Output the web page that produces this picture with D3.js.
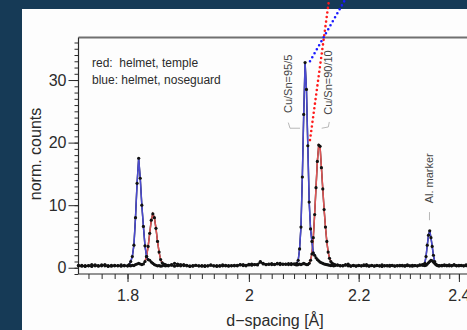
<!DOCTYPE html>
<html>
<head>
<meta charset="utf-8">
<script src="https://cdn.jsdelivr.net/npm/d3@7"></script>
<style>
  body { margin: 0; background: #163a56; overflow: hidden; }
  svg { display: block; font-family: "Liberation Sans", Arial, sans-serif; }
</style>
</head>
<body>
<div id="chart"></div>
<script>
// d-spacing bins (coarse on the baseline, finer through the peaks)
const dSpacing = [
  1.725, 1.73, 1.735, 1.74, 1.745, 1.75, 1.755, 1.76, 1.765, 1.77, 1.775, 1.78, 1.785, 1.79, 1.795,
  1.8, 1.8025, 1.805, 1.8075, 1.81, 1.8125, 1.815, 1.8175, 1.82, 1.8225, 1.825, 1.8275, 1.83,
  1.8325, 1.835, 1.8375, 1.84, 1.8425, 1.845, 1.8475, 1.85, 1.8525, 1.855, 1.8575, 1.86, 1.8625,
  1.865, 1.87, 1.875, 1.88, 1.885, 1.89, 1.895, 1.9, 1.905, 1.91, 1.915, 1.92, 1.925, 1.93, 1.935,
  1.94, 1.945, 1.95, 1.955, 1.96, 1.965, 1.97, 1.975, 1.98, 1.985, 1.99, 1.995, 2.0, 2.005, 2.01,
  2.015, 2.02, 2.025, 2.03, 2.035, 2.04, 2.045, 2.05, 2.055, 2.06, 2.065, 2.07, 2.075, 2.08,
  2.0825, 2.085, 2.0875, 2.09, 2.0925, 2.095, 2.0975, 2.1, 2.1025, 2.105, 2.1075, 2.11, 2.1125,
  2.115, 2.1175, 2.12, 2.1225, 2.125, 2.1275, 2.13, 2.1325, 2.135, 2.1375, 2.14, 2.1425, 2.145,
  2.1475, 2.15, 2.1525, 2.155,
  2.16, 2.165, 2.17, 2.175, 2.18, 2.185, 2.19, 2.195, 2.2, 2.205, 2.21, 2.215, 2.22, 2.225, 2.23,
  2.235, 2.24, 2.245, 2.25, 2.255, 2.26, 2.265, 2.27, 2.275, 2.28, 2.285, 2.29, 2.295, 2.3, 2.305,
  2.31, 2.315, 2.32, 2.325,
  2.3275, 2.33, 2.3325, 2.335, 2.3375, 2.34, 2.3425, 2.345, 2.3475, 2.35, 2.3525, 2.355, 2.3575,
  2.36, 2.365, 2.37, 2.375, 2.38, 2.385, 2.39, 2.395, 2.4, 2.405, 2.41, 2.415, 2.42
]

// red: helmet, temple
const countsTemple = [
  0.4, 0.25, 0.35, 0.3, 0.2, 0.45, 0.35, 0.3, 0.5, 0.35, 0.25, 0.4, 0.3, 0.45, 0.3,
  0.3, 0.35, 0.3, 0.4, 0.35, 0.5, 0.6, 0.7, 0.6, 0.5, 0.6, 1.0, 1.8,
  3.4, 5.5, 7.6, 8.6, 8.0, 6.3, 4.2, 2.5, 1.3, 0.8, 0.6, 0.5, 0.4,
  0.4, 0.5, 0.7, 0.6, 0.5, 0.35, 0.4, 0.3, 0.25, 0.4, 0.3, 0.35, 0.2, 0.3, 0.4,
  0.3, 0.35, 0.25, 0.45, 0.3, 0.35, 0.3, 0.4, 0.3, 0.45, 0.5, 0.4, 0.55, 0.6, 0.5,
  0.45, 1.0, 0.7, 0.5, 0.55, 0.65, 0.5, 0.6, 0.7, 0.55, 0.6, 0.5, 0.65, 0.6,
  0.5, 0.45, 0.5, 0.6, 0.5, 0.6, 0.7, 0.6, 0.5, 0.5, 0.7, 1.2, 2.2,
  4.8, 8.5, 12.8, 17.0, 19.6, 19.4, 16.0, 12.6, 9.3, 6.5, 4.2, 2.5, 1.5,
  1.0, 0.7, 0.6, 0.5,
  0.45, 0.35, 0.3, 0.4, 0.6, 0.3, 0.35, 0.25, 0.4, 0.3, 0.35, 0.5, 0.3, 0.4, 0.25,
  0.35, 0.3, 0.45, 0.3, 0.35, 0.25, 0.4, 0.3, 0.35, 0.3, 0.4, 0.25, 0.35, 0.3, 0.4,
  0.35, 0.3, 0.45, 0.4,
  0.4, 0.35, 0.4, 0.6, 0.8, 1.0, 1.2, 1.1, 0.9, 0.7, 0.5, 0.4, 0.3,
  0.35, 0.3, 0.45, 0.4, 0.3, 0.35, 0.5, 0.3, 0.4, 0.35, 0.3, 0.45, 0.35
]

// blue: helmet, noseguard
const countsNoseguard = [
  0.3, 0.4, 0.2, 0.35, 0.5, 0.3, 0.25, 0.45, 0.3, 0.2, 0.4, 0.3, 0.35, 0.25, 0.4,
  0.3, 0.5, 1.0, 1.8, 3.6, 8.0, 13.5, 17.5, 14.3, 10.0, 6.6, 3.5, 1.8,
  1.3, 1.2, 0.9, 0.7, 0.5, 0.4, 0.3, 0.35, 0.25, 0.3, 0.4, 0.3, 0.35,
  0.3, 0.4, 0.25, 0.35, 0.3, 0.5, 0.3, 0.2, 0.35, 0.4, 0.3, 0.25, 0.35, 0.3, 0.45,
  0.3, 0.2, 0.35, 0.3, 0.4, 0.25, 0.35, 0.3, 0.4, 0.5, 0.35, 0.3, 0.45, 0.4, 0.5,
  0.55, 0.9, 0.6, 0.5, 0.6, 0.5, 0.55, 0.7, 0.5, 0.6, 0.55, 0.65, 0.5, 0.6,
  0.6, 0.7, 1.2, 3.0, 6.5, 14.5, 24.5, 32.8, 28.5, 19.5, 10.5, 6.2, 4.2,
  2.4, 2.0, 1.6, 1.3, 1.1, 0.9, 0.8, 0.7, 0.6, 0.55, 0.5, 0.45, 0.4,
  0.35, 0.4, 0.3, 0.35,
  0.4, 0.3, 0.35, 0.5, 0.3, 0.25, 0.4, 0.3, 0.35, 0.3, 0.45, 0.3, 0.25, 0.35, 0.3,
  0.4, 0.3, 0.2, 0.35, 0.3, 0.4, 0.35, 0.25, 0.3, 0.4, 0.3, 0.35, 0.45, 0.3, 0.25,
  0.35, 0.3, 0.4, 0.5,
  0.5, 0.7, 1.8, 3.6, 5.2, 5.9, 4.8, 3.4, 2.0, 1.0, 0.6, 0.4, 0.35,
  0.3, 0.4, 0.35, 0.3, 0.45, 0.3, 0.4, 0.35, 0.3, 0.4, 0.3, 0.35, 0.4
]

// d ranges where each pattern is traced in colour
const templePeaks = [[1.8275, 1.8575], [2.1075, 2.15]]
const noseguardPeaks = [[1.8025, 1.8325], [2.085, 2.1175], [2.33, 2.3525]]

const xTicks = [1.8, 2, 2.2, 2.4]
const xTickLabels = ["1.8", "2", "2.2", "2.4"]
const yTicks = [0, 10, 20, 30]
const yTickLabels = ["0", "10", "20", "30"]

const legendLines = ["red:  helmet, temple", "blue: helmet, noseguard"]

const peakLabels = ["Cu/Sn=95/5", "Cu/Sn=90/10", "Al. marker"]
const peakLabelD = [2.0696, 2.1428, 2.3395]
const peakLabelV = [29.4, 29.6, 14.3]

const width = 467
const height = 330

const svg = d3
  .select("#chart")
  .append("svg")
  .attr("width", width)
  .attr("height", height)

// white slide panel
svg.append("rect")
  .attr("x", 22)
  .attr("y", 9)
  .attr("width", width)
  .attr("height", height)
  .attr("fill", "#fdfdfd")

// log d axis (constant delta-d/d binning)
const x = d3.scaleLog().domain([1.725, 2.43]).range([78.5, 473.2])
const y = d3.scaleLinear().domain([-1, 36.8]).range([274, 37.5])

const inkColor = "#2b2b2b"

// top frame
svg.append("line")
  .attr("x1", x.range()[0]).attr("x2", width + 10)
  .attr("y1", y.range()[1]).attr("y2", y.range()[1])
  .attr("stroke", "#707070")
  .attr("stroke-width", 2)

// x axis: minor then major
const xMinor = d3.range(1.74, 2.44, 0.02)
svg.append("g")
  .attr("transform", "translate(0," + y.range()[0] + ")")
  .call(d3.axisBottom(x).tickValues(xMinor).tickSize(5).tickFormat(""))
  .call(g => g.select(".domain").remove())

const xAxis = svg.append("g")
  .attr("transform", "translate(0," + y.range()[0] + ")")
  .call(
    d3.axisBottom(x)
      .tickValues(xTicks)
      .tickSize(8)
      .tickPadding(8)
      .tickFormat((d, i) => xTickLabels[i])
  )
xAxis.select(".domain").remove()

// y axis: minor then major
const yMinor = d3.range(-1, 37, 1)
svg.append("g")
  .attr("transform", "translate(" + x.range()[0] + ",0)")
  .call(d3.axisLeft(y).tickValues(yMinor).tickSize(4).tickFormat(""))
  .call(g => g.select(".domain").remove())

const yAxis = svg.append("g")
  .attr("transform", "translate(" + x.range()[0] + ",0)")
  .call(
    d3.axisLeft(y)
      .tickValues(yTicks)
      .tickSize(10)
      .tickPadding(2)
      .tickFormat((d, i) => yTickLabels[i])
  )
yAxis.select(".domain").remove()

svg.selectAll(".tick line").attr("stroke", inkColor)
svg.selectAll(".tick text")
  .attr("fill", inkColor)
  .style("font-size", "16px")
  .style("font-family", '"Liberation Sans", Arial, sans-serif')

// axis lines
svg.append("line")
  .attr("x1", x.range()[0]).attr("x2", width + 10)
  .attr("y1", y.range()[0]).attr("y2", y.range()[0])
  .attr("stroke", inkColor).attr("stroke-width", 1.2)
svg.append("line")
  .attr("x1", x.range()[0]).attr("x2", x.range()[0])
  .attr("y1", y.range()[1]).attr("y2", y.range()[0])
  .attr("stroke", inkColor).attr("stroke-width", 1.2)

// axis titles
svg.append("text")
  .attr("x", 275)
  .attr("y", 326)
  .attr("text-anchor", "middle")
  .attr("fill", inkColor)
  .style("font-size", "16px")
  .text("d\u2212spacing [Å]")

svg.append("text")
  .attr("transform", "translate(41,154) rotate(-90)")
  .attr("text-anchor", "middle")
  .attr("fill", inkColor)
  .style("font-size", "16px")
  .text("norm. counts")

// legend
svg.selectAll(".legend")
  .data(legendLines)
  .enter()
  .append("text")
  .attr("class", "legend")
  .attr("x", 92)
  .attr("y", (d, i) => 66.5 + i * 17.5)
  .attr("fill", inkColor)
  .style("font-size", "12px")
  .style("white-space", "pre")
  .text(d => d)

// series
const series = [
  { name: "temple", counts: countsTemple, peaks: templePeaks, color: "#e05656" },
  { name: "noseguard", counts: countsNoseguard, peaks: noseguardPeaks, color: "#4a4ad0" }
]
series.forEach(s => {
  s.points = dSpacing.map((d, i) => ({ d: d, v: s.counts[i] }))
})

const line = d3.line().x(p => x(p.d)).y(p => y(p.v))

const plot = svg.append("g")

series.forEach(s => {
  plot.append("path")
    .datum(s.points)
    .attr("fill", "none")
    .attr("stroke", "#111")
    .attr("stroke-width", 1.4)
    .attr("d", line)
})

series.forEach(s => {
  s.peaks.forEach(r => {
    plot.append("path")
      .datum(s.points.filter(p => p.d >= r[0] - 1e-6 && p.d <= r[1] + 1e-6))
      .attr("fill", "none")
      .attr("stroke", s.color)
      .attr("stroke-width", 1.5)
      .attr("d", line)
  })
})

series.forEach(s => {
  plot.append("g")
    .selectAll("circle")
    .data(s.points)
    .enter()
    .append("circle")
    .attr("cx", p => x(p.d))
    .attr("cy", p => y(p.v))
    .attr("r", 1.6)
    .attr("fill", "#111")
})

// peak annotations (rotated)
peakLabels.forEach((t, i) => {
  svg.append("text")
    .attr("transform", "translate(" + x(peakLabelD[i]) + "," + y(peakLabelV[i]) + ") rotate(-90)")
    .attr("text-anchor", "middle")
    .attr("dominant-baseline", "central")
    .attr("fill", "#444")
    .style("font-size", "11px")
    .text(t)
})

// light brackets under the alloy labels, marker tick under Al
const brackets = [
  [[2.0696, 23.2], [2.0727, 22.3], [2.0908, 22.3]],
  [[2.1305, 22.3], [2.1428, 22.5], [2.1446, 23.3]],
  [[2.3395, 8.9], [2.3395, 7.6]]
]
brackets.forEach(b => {
  svg.append("path")
    .datum(b)
    .attr("fill", "none")
    .attr("stroke", "#b8b8b8")
    .attr("stroke-width", 1)
    .attr("d", d3.line().x(p => x(p[0])).y(p => y(p[1])))
})

// dotted guide lines running off the top of the slide
const guides = [
  { color: "#ff1a1a", pts: [[2.109, 20.4], [2.1452, 43.5]] },
  { color: "#1a1aff", pts: [[2.109, 33.0], [2.1787, 43.5]] }
]
guides.forEach(g => {
  svg.append("path")
    .datum(g.pts)
    .attr("fill", "none")
    .attr("stroke", g.color)
    .attr("stroke-width", 2.6)
    .attr("stroke-linecap", "round")
    .attr("stroke-dasharray", "0 4.6")
    .attr("d", d3.line().x(p => x(p[0])).y(p => y(p[1])))
})
</script>
</body>
</html>
